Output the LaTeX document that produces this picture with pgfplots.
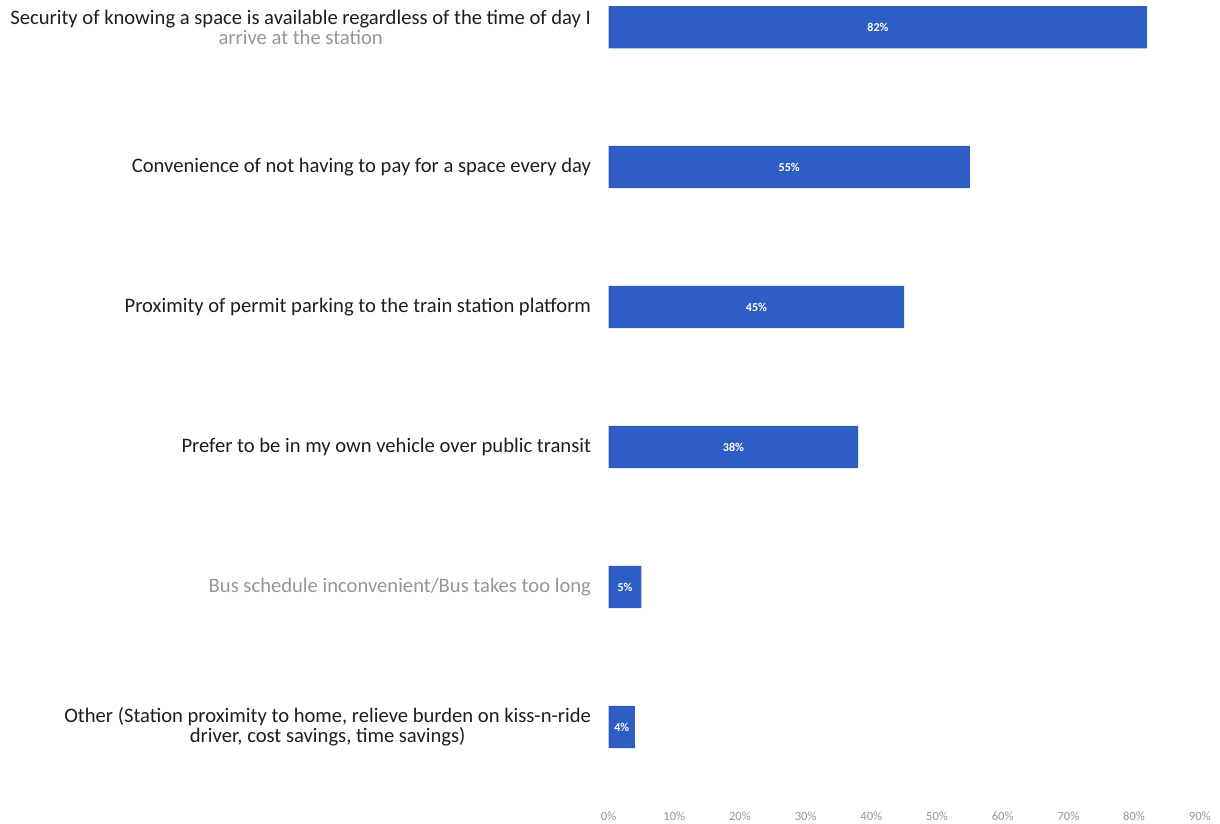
\documentclass[border=0pt]{standalone}
\usepackage{pgfplots}
\pgfplotsset{compat=1.18}
\usepackage{fontspec}
\setmainfont{Carlito}
\definecolor{barblue}{RGB}{46,94,197}
\definecolor{labgray}{RGB}{150,150,150}
\definecolor{txtdark}{RGB}{30,30,30}

% share of respondents, bottom (0) to top (5)
\pgfplotstableread{
y v
0 4
1 5
2 38
3 45
4 55
5 82
}\reasons

\begin{document}
\begin{tikzpicture}
\begin{axis}[
    width=588pt, height=795pt, scale only axis,
    xmin=0, xmax=90,
    ymin=-0.517, ymax=5.194,
    axis line style={draw=none},
    tick style={draw=none},
    major tick length=0pt,
    xtick={0,10,...,90},
    xticklabel={\pgfmathprintnumber{\tick}\%},
    xticklabel style={text=labgray, font=\fontsize{12.5}{14}\selectfont, yshift=-9pt},
    /pgf/number format/assume math mode=true,
    ytick={0,1,2,3,4,5},
    yticklabels={
      {Other (Station proximity to home, relieve burden on kiss-n-ride\\driver, cost savings, time savings)},
      {\textcolor{labgray}{Bus schedule inconvenient/Bus takes too long}},
      {Prefer to be in my own vehicle over public transit},
      {Proximity of permit parking to the train station platform},
      {Convenience of not having to pay for a space every day},
      {Security of knowing a space is available regardless of the time of day I\\\textcolor{labgray}{arrive at the station}},
    },
    yticklabel style={align=center, text=txtdark, font=\fontsize{20.5}{20}\selectfont, xshift=-14pt},
]
\addplot[xbar, bar width=0.302, fill=barblue, draw=none,
    visualization depends on={x \as \rawx},
    nodes near coords={\pgfmathprintnumber{\pgfplotspointmeta}\%},
    point meta=x,
    nodes near coords style={anchor=center, text=white,
        font=\bfseries\fontsize{12}{13}\selectfont, xshift=-\rawx*3.26667pt}]
    table[x=v, y=y] {\reasons};
\end{axis}
% small white margin at left and right, as in the scan
\path ([xshift=-7pt]current axis.outer south west) rectangle ([xshift=6pt]current axis.outer north east);
\end{tikzpicture}
\end{document}
